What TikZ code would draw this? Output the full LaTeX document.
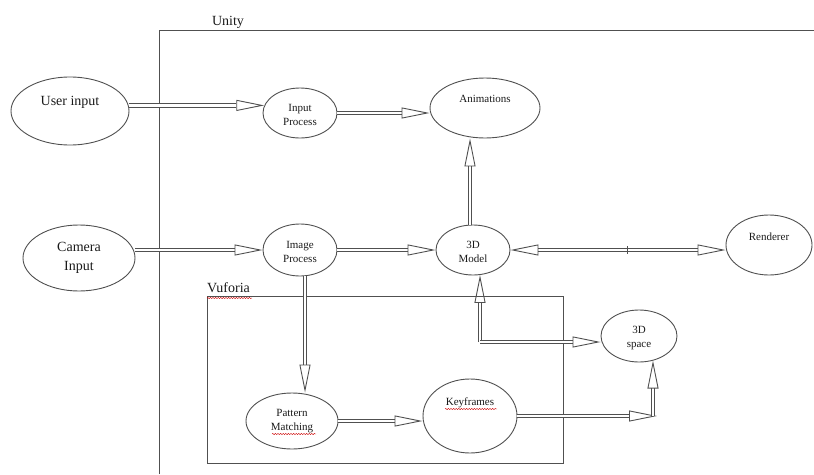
\documentclass[tikz,border=0pt]{standalone}
\usepackage{fontspec}
\setmainfont{Liberation Serif}
\usetikzlibrary{shapes.geometric,arrows.meta,decorations.pathmorphing,calc}
\definecolor{lc}{HTML}{505050}
\definecolor{tc}{HTML}{1A1A1A}
\begin{document}
\begin{tikzpicture}[x=1pt,y=-1pt,
  ell/.style={draw=lc, line width=0.9pt, ellipse, inner sep=0pt},
  big/.style={font=\fontsize{14}{19}\selectfont, text=tc, align=center, inner sep=0pt},
  sm/.style={font=\fontsize{11}{14.5}\selectfont, text=tc, align=center, inner sep=0pt},
  dbl/.style={draw=lc, line width=1.2pt, double=white, double distance=2.4pt,
    -{Triangle[open, length=28pt, width=11pt, line width=0.9pt]}},
  dblboth/.style={draw=lc, line width=1.2pt, double=white, double distance=2.4pt,
    {Triangle[open, length=28pt, width=11pt, line width=0.9pt]}-{Triangle[open, length=28pt, width=11pt, line width=0.9pt]}},
  frame/.style={draw=lc, line width=1pt},
  squig/.style={draw=red!80!black, line width=0.4pt, decorate, decoration={snake, amplitude=0.6pt, segment length=2.6pt}}
]
\useasboundingbox (0,0) rectangle (814,474);

% Unity frame
\coordinate (u1) at (159,474);
\coordinate (u2) at (159,30);
\coordinate (u3) at (814,30);
\draw[frame] (u1) -- (u2) -- (u3);
\node[big, anchor=base] (unity) at (228,25) {Unity};

% Vuforia frame
\node[frame, draw, rectangle, minimum width=356pt, minimum height=167pt, anchor=north west, inner sep=0pt] (vbox) at (207,296) {};
\node[big, anchor=base west] (vuf) at (207,292) {Vuforia};
\draw[squig] (207,298) -- (252,298);

% Ellipses
\node[ell, minimum width=118pt, minimum height=68pt,
  label={[big, yshift=9pt]center:User input}] (ui) at (70,111) {};
\node[ell, minimum width=74pt, minimum height=50pt,
  label={[sm, yshift=-2pt]center:Input\\Process}] (ip) at (300,113) {};
\node[ell, minimum width=110pt, minimum height=60pt,
  label={[sm, yshift=9pt]center:Animations}] (an) at (485,108) {};
\node[ell, minimum width=112pt, minimum height=66pt,
  label={[big]center:Camera\\Input}] (ci) at (79,258) {};
\node[ell, minimum width=74pt, minimum height=52pt,
  label={[sm, yshift=-2pt]center:Image\\Process}] (imp) at (300,250) {};
\node[ell, minimum width=74pt, minimum height=50pt,
  label={[sm, yshift=-2pt]center:3D\\Model}] (md) at (473,250) {};
\node[ell, minimum width=86pt, minimum height=60pt,
  label={[sm, yshift=8pt]center:Renderer}] (rn) at (769,245) {};
\node[ell, minimum width=92pt, minimum height=56pt,
  label={[sm]center:Pattern\\Matching}] (pm) at (292,421) {};
\node[ell, minimum width=94pt, minimum height=74pt,
  label={[sm, yshift=13pt]center:Keyframes}] (kf) at (470,416) {};
\node[ell, minimum width=76pt, minimum height=52pt,
  label={[sm, yshift=-2pt]center:3D\\space}] (sp) at (639,336) {};

% spell-check marks
\draw[squig] (272,434) -- (316,434);
\draw[squig] (445,409) -- (497,409);

% Connectors
\draw[dbl] (ui.east |- ip.168) -- (ip.168);
\draw[dbl] (ip.east) -- (ip.east -| an.west);
\draw[dbl] (ci.east |- imp.west) -- (imp.west);
\draw[dbl] (imp.east) -- (md.west);
\draw[dbl] ([xshift=-3pt]md.north) -- ([xshift=-3pt]md.north |- an.south);
\draw[dblboth] (md.east) -- (md.east -| rn.west) coordinate[pos=0.546] (tk);
\draw[lc, line width=0.9pt] ($(tk)+(0,-4)$) -- ($(tk)+(0,4)$);
\draw[dbl] ([xshift=5pt]imp.south) -- ([xshift=5pt]imp.south |- pm.north);
\draw[dbl] (pm.east) -- (pm.east -| kf.west);

\coordinate (kc) at (653,416);
\draw[dbl] (kf.east |- kc) -- ([xshift=4pt]kc);
\draw[dbl] (kc) -- (kc |- sp.-60);

\coordinate (jn) at (480,342);
\draw[dbl] (jn) -- (jn |- md.-74);
\draw[dbl] (jn) -- (jn -| sp.west);
\end{tikzpicture}
\end{document}
